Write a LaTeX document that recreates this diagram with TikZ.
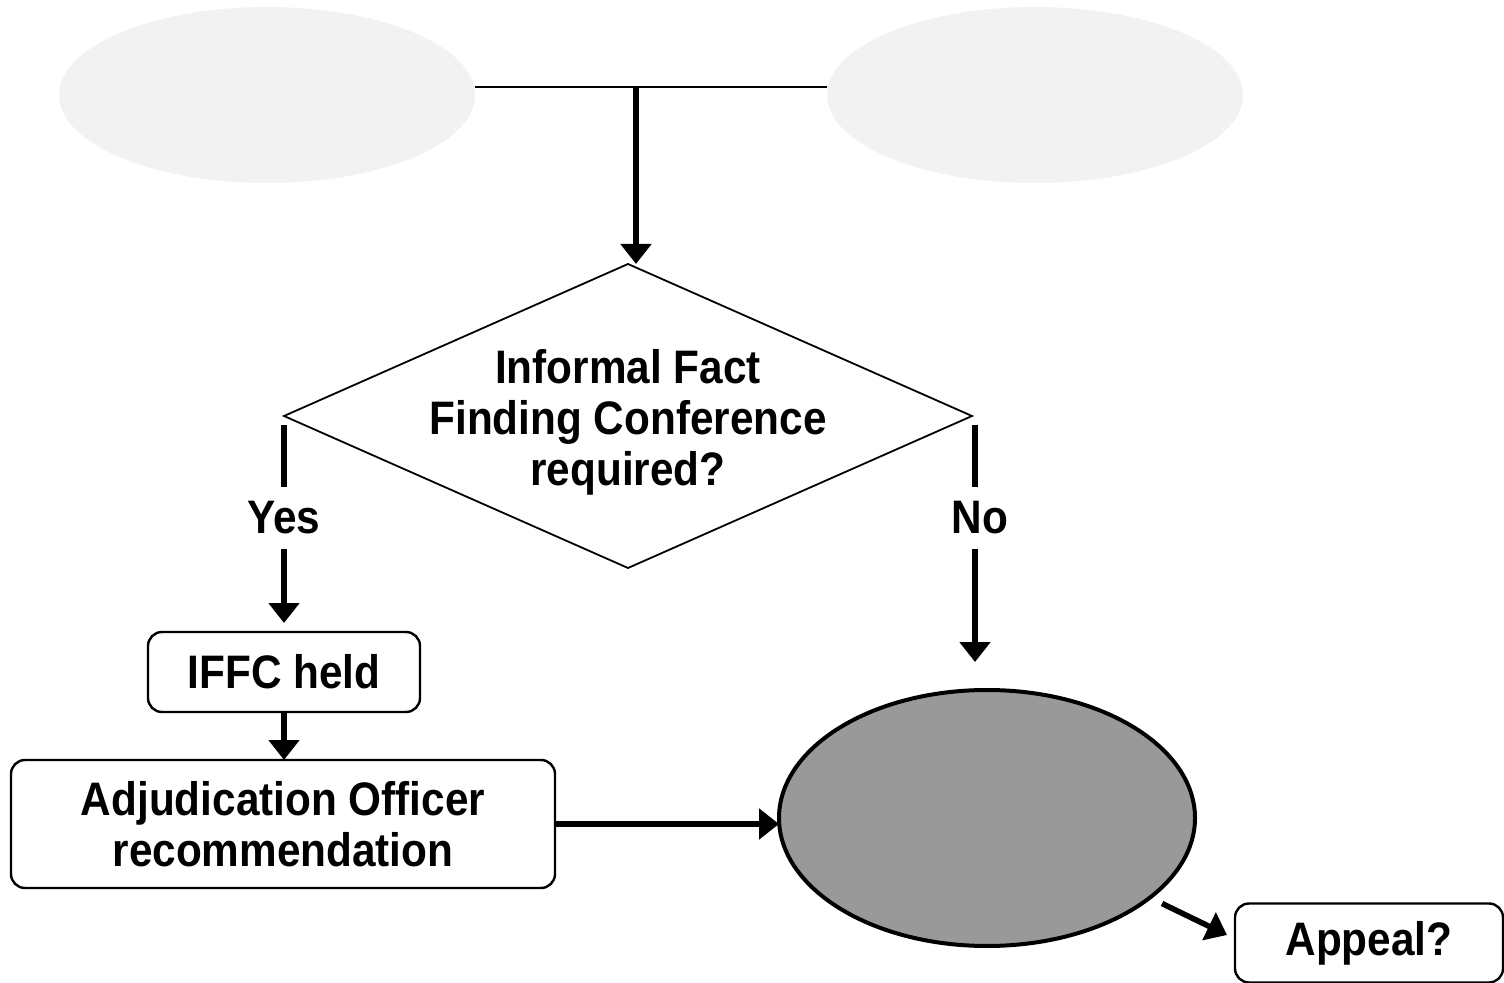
\documentclass[tikz,border=0pt]{standalone}
\usepackage{fontspec}
\newfontfamily\dfont[FakeStretch=0.9]{Liberation Sans}
\usetikzlibrary{shapes.geometric,arrows.meta,calc}
\definecolor{lightell}{HTML}{F2F2F2}
\definecolor{midgray}{HTML}{999999}
\begin{document}
\begin{tikzpicture}[x=0.5pt,y=-0.5pt,
  lbl/.style={font={\dfont\bfseries\fontsize{23.5pt}{25.5pt}\selectfont}, align=center},
  box/.style={lbl, draw, line width=1.2pt, rounded corners=7pt, inner sep=0pt, outer sep=0pt},
  arr/.style={line width=2.8pt, -{Triangle[length=10pt,width=15pt]}},
  stem/.style={line width=2.8pt},
  topell/.style={ellipse, fill=lightell, inner sep=0pt, outer sep=0pt, minimum width=208pt, minimum height=88pt},
  thin/.style={line width=1.2pt}
]
\useasboundingbox (0,0) rectangle (1504,983);

% top ellipses
\node[topell] (tl) at (267,95) {};
\node[topell] (tr) at (1035,95) {};
\coordinate (j) at (636,87);
\draw[thin] (tl.east |- j) -- (tr.west |- j);

% diamond
\node[diamond, draw, line width=0.9pt, inner sep=0pt, outer sep=0pt,
      minimum width=344pt, minimum height=152pt,
      label={[lbl, yshift=-3pt]center:Informal Fact\\Finding Conference\\required?}] (dia) at (628,416) {};
\draw[arr] (j) -- (j |- dia.north);

% yes branch
\coordinate (yestop) at (284,425);
\node[lbl, inner sep=0pt, minimum height=31pt] (yes) at (284,518) {Yes};
\node[box, minimum width=136pt, minimum height=40pt] (iffc) at (284,672) {IFFC held};
\draw[stem] (yestop) -- (yes.north);
\draw[arr, shorten >=4.5pt] (yes.south) -- (iffc.north);

\node[box, minimum width=272pt, minimum height=64pt] (adj) at (283,824) {Adjudication Officer\\recommendation};
\draw[arr] (iffc.south) -- (iffc.south |- adj.north);

% no branch
\coordinate (notop) at (975,425);
\node[lbl, inner sep=0pt, minimum height=31pt] (no) at (980,518) {No};
\node[ellipse, draw, line width=2pt, fill=midgray, inner sep=0pt, outer sep=0pt,
      minimum width=208pt, minimum height=128pt] (ell) at (987,818) {};
\draw[stem] (notop) -- (notop |- no.north);
\draw[arr, shorten >=14pt] (notop |- no.south) -- (notop |- ell.north);

\draw[arr] (adj.east) -- (adj.east -| ell.west);

% appeal
\node[box, minimum width=134pt, minimum height=39.5pt] (appeal) at (1369,943) {Appeal?};
\draw[arr] ([shift={(12,6)}]ell.-26) -- ([shift={(-8,-8)}]appeal.west);
\end{tikzpicture}
\end{document}
